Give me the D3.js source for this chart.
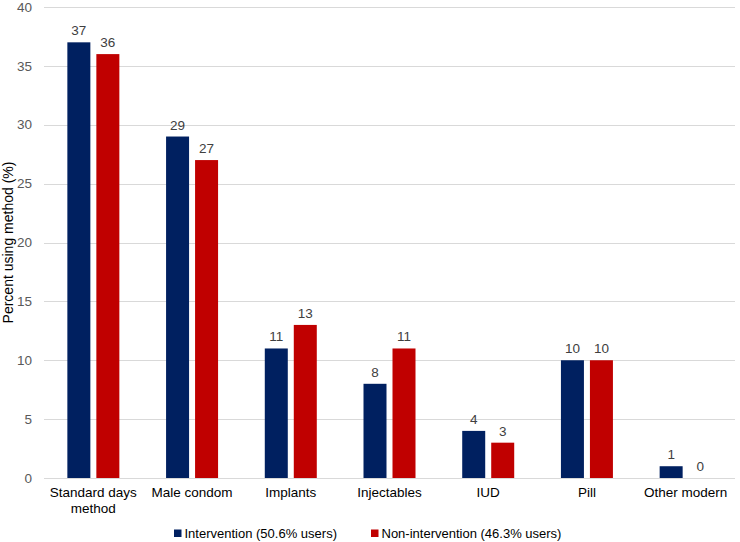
<!DOCTYPE html>
<html><head><meta charset="utf-8">
<script src="https://cdn.jsdelivr.net/npm/d3@7"></script>
<style>body{margin:0;background:#fff;font-family:Arial,"Liberation Sans",sans-serif;}</style>
</head><body>
<svg id="c" width="740" height="542"></svg>
<script>
const categories = [["Standard days","method"],["Male condom"],["Implants"],["Injectables"],["IUD"],["Pill"],["Other modern"]];
const intervention = [37,29,11,8,4,10,1];
const nonIntervention = [36,27,13,11,3,10,0];
const seriesNames = ["Intervention (50.6% users)","Non-intervention (46.3% users)"];
const colors = ["#002060","#C00000"];
const yTicks = [0,5,10,15,20,25,30,35,40];

const svg = d3.select("#c");
const m = {l:44, r:5, t:7, b:64};
const W = 740, H = 542;
const x = d3.scaleBand().domain(d3.range(categories.length)).range([m.l, W-m.r]);
const y = d3.scaleLinear().domain([0,40]).range([H-m.b, m.t]);
const font = "Arial, 'Liberation Sans', sans-serif";

// gridlines
svg.append("g").selectAll("line").data(yTicks).join("line")
  .attr("x1", m.l).attr("x2", W-m.r)
  .attr("y1", d=>Math.round(y(d))+0.5).attr("y2", d=>Math.round(y(d))+0.5)
  .attr("stroke", "#d9d9d9").attr("stroke-width",1);

// y tick labels
svg.append("g").selectAll("text").data(yTicks).join("text")
  .attr("x", 32).attr("y", d=>y(d)).attr("dy","0.35em")
  .attr("text-anchor","end").attr("font-size",13.5).attr("fill","#595959").attr("font-family",font)
  .text(d=>d);

// y title
svg.append("text").attr("transform",`translate(13,${(m.t+H-m.b)/2}) rotate(-90)`)
  .attr("text-anchor","middle").attr("font-size",14).attr("fill","#000").attr("font-family",font)
  .text("Percent using method (%)");

const bw = 23, gap = 6;
const series = [intervention, nonIntervention];
series.forEach((vals, si) => {
  const g = svg.append("g");
  const cx = i => x(i) + x.bandwidth()/2 + (si===0 ? -gap/2 - bw : gap/2);
  g.selectAll("rect").data(vals).join("rect")
    .attr("x", (d,i)=>cx(i)).attr("width", bw)
    .attr("y", d=>y(d)).attr("height", d=>y(0)-y(d))
    .attr("fill", colors[si]);
  g.selectAll("text").data(vals).join("text")
    .attr("x", (d,i)=>cx(i)+bw/2).attr("y", d=>y(d)-7)
    .attr("text-anchor","middle").attr("font-size",13.5).attr("fill","#404040").attr("font-family",font)
    .text(d=>d);
});

// x labels
const xl = svg.append("g").selectAll("text").data(categories).join("text")
  .attr("x",(d,i)=>x(i)+x.bandwidth()/2).attr("y", 497)
  .attr("text-anchor","middle").attr("font-size",13.5).attr("fill","#000").attr("font-family",font);
xl.selectAll("tspan").data(d=>d).join("tspan")
  .attr("x", function(){return this.parentNode.getAttribute("x");})
  .attr("dy",(d,i)=>i===0?0:16).text(d=>d);

// legend
const leg = [{x:174},{x:371}];
leg.forEach((l,i)=>{
  svg.append("rect").attr("x",l.x).attr("y",529.5).attr("width",7.5).attr("height",7.5).attr("fill",colors[i]);
  svg.append("text").attr("x",l.x+10.5).attr("y",537.5).attr("font-size",13).attr("fill","#000").attr("font-family",font).text(seriesNames[i]);
});
</script>
</body></html>
